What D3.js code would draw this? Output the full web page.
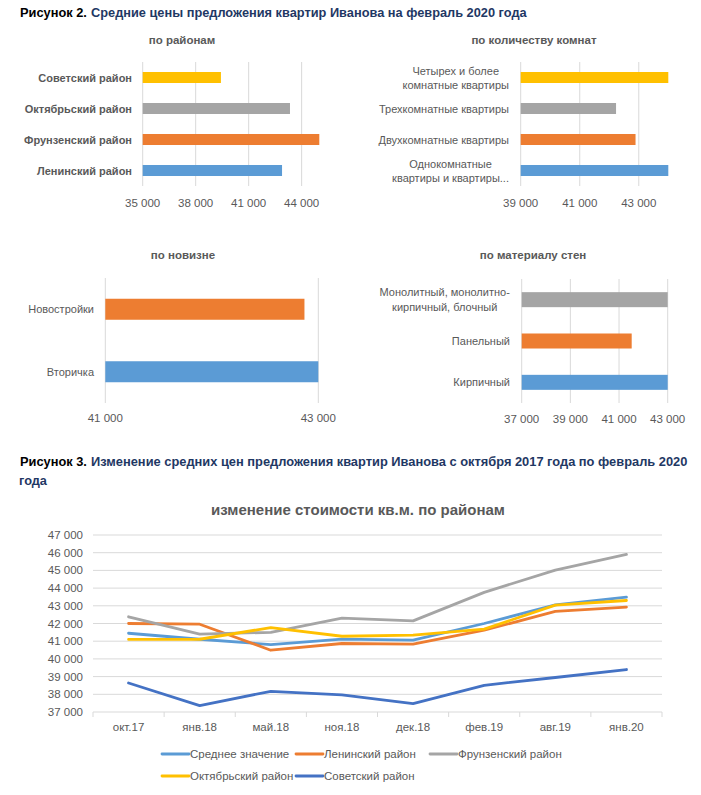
<!DOCTYPE html>
<html>
<head>
<meta charset="utf-8">
<script src="https://cdn.jsdelivr.net/npm/d3@7"></script>
<style>
  body { margin: 0; background: #fff; }
  svg { font-family: "Liberation Sans", Arial, sans-serif; }
</style>
</head>
<body>
<svg id="chart" width="701" height="795"></svg>
<script>
// ---- данные (снизу вверх, как в Excel) ----
var districtCats = ["Ленинский район", "Фрунзенский район", "Октябрьский район", "Советский район"];
var districtValues = [42890, 45900, 43340, 39430];

var roomCats = ["Однокомнатные\nквартиры и квартиры...", "Двухкомнатные квартиры", "Трехкомнатные квартиры", "Четырех и более\nкомнатные квартиры"];
var roomValues = [44000, 42890, 42230, 44000];

var newCats = ["Вторичка", "Новостройки"];
var newValues = [43000, 42870];

var wallCats = ["Кирпичный", "Панельный", "Монолитный, монолитно-\nкирпичный, блочный"];
var wallValues = [43000, 41520, 43000];

var months = ["окт.17", "янв.18", "май.18", "ноя.18", "дек.18", "фев.19", "авг.19", "янв.20"];
var seriesNames = ["Среднее значение", "Ленинский район", "Фрунзенский район", "Октябрьский район", "Советский район"];
var avgValues = [41450, 41110, 40810, 41120, 41060, 42000, 43050, 43490];
var leninValues = [42000, 41960, 40490, 40870, 40830, 41620, 42680, 42930];
var frunzeValues = [42380, 41400, 41500, 42300, 42150, 43760, 45020, 45900];
var oktValues = [41100, 41110, 41770, 41280, 41340, 41680, 43040, 43300];
var sovValues = [38640, 37360, 38170, 37970, 37470, 38510, 38950, 39400];

var colors = ["#5b9bd5", "#ed7d31", "#a5a5a5", "#ffc000", "#4472c4"];
var textGray = "#595959";
var gridGray = "#d9d9d9";

var svg = d3.select("#chart");
var fmt = d3.formatLocale({ decimal: ",", thousands: "\u00a0", grouping: [3], currency: ["", ""] }).format(",");

// заголовки рисунков: ужимаем по ширине через scale, чтобы совпасть с Calibri
function squeezed(x, y, text, len, fill) {
  var t = svg.append("text").attr("font-size", "13.5px").attr("font-weight", "bold")
    .attr("fill", fill).text(text);
  var w = t.node().getComputedTextLength();
  t.attr("transform", "translate(" + x + "," + y + ") scale(" + Math.min(1, len / w) + ",1)");
}
squeezed(20, 17, "Рисунок 2.", 67, "#000");
squeezed(91, 17, "Средние цены предложения квартир Иванова на февраль 2020 года", 436, "#1f3864");
squeezed(20, 466, "Рисунок 3.", 67, "#000");
squeezed(91, 466, "Изменение средних цен предложения квартир Иванова с октября 2017 года по февраль 2020", 597, "#1f3864");
squeezed(19, 485, "года", 28, "#1f3864");

// горизонтальная столбчатая диаграмма
function barPanel(opt) {
  var g = svg.append("g");
  var x = d3.scaleLinear().domain(opt.domain).range(opt.xr).clamp(true);
  var y = d3.scaleBand().domain(opt.cats.slice().reverse()).range(opt.yr)
    .paddingInner(opt.gap).paddingOuter(opt.gap / 2);

  g.append("text").attr("x", opt.titleX).attr("y", opt.titleY).attr("text-anchor", "middle")
    .attr("dominant-baseline", "central").attr("font-size", "11.5px").attr("font-weight", "bold")
    .attr("fill", textGray).text(opt.title);

  g.selectAll("line.grid").data(opt.ticks).enter().append("line")
    .attr("x1", function(d) { return x(d); }).attr("x2", function(d) { return x(d); })
    .attr("y1", opt.yr[0]).attr("y2", opt.yr[1])
    .attr("stroke", gridGray).attr("stroke-width", 1);

  g.selectAll("text.tick").data(opt.ticks).enter().append("text")
    .attr("x", function(d) { return x(d); }).attr("y", opt.tickY)
    .attr("text-anchor", "middle").attr("dominant-baseline", "central")
    .attr("font-size", "11.5px").attr("fill", textGray).text(function(d) { return fmt(d); });

  g.selectAll("rect").data(opt.values).enter().append("rect")
    .attr("x", x(opt.domain[0]))
    .attr("y", function(d, i) { return y(opt.cats[i]); })
    .attr("width", function(d) { return x(d) - x(opt.domain[0]); })
    .attr("height", y.bandwidth())
    .attr("fill", function(d, i) { return colors[i]; });

  opt.cats.forEach(function(c) {
    var lines = c.split("\n");
    var cy = y(c) + y.bandwidth() / 2;
    var t = g.append("text").attr("font-size", "11px").attr("fill", textGray)
      .attr("font-weight", opt.bold ? "bold" : "normal").attr("dominant-baseline", "central");
    if (lines.length == 1) {
      t.attr("x", opt.labelX).attr("y", cy).attr("text-anchor", "end").text(c);
    } else {
      t.attr("text-anchor", "middle");
      lines.forEach(function(l, k) {
        t.append("tspan").attr("x", 0).attr("y", cy + (k - (lines.length - 1) / 2) * opt.lineH).text(l);
      });
      var w = t.node().getBBox().width;
      t.selectAll("tspan").attr("x", opt.labelX - w / 2);
    }
  });
}

barPanel({ title: "по районам", titleX: 182, titleY: 40, cats: districtCats, values: districtValues,
  domain: [35000, 45000], ticks: [35000, 38000, 41000, 44000], xr: [142.7, 319.3],
  yr: [62, 186], gap: 0.645, tickY: 203, labelX: 132, bold: true, lineH: 14 });

barPanel({ title: "по количеству комнат", titleX: 534, titleY: 40, cats: roomCats, values: roomValues,
  domain: [39000, 44000], ticks: [39000, 41000, 43000], xr: [520.7, 668.3],
  yr: [62, 186], gap: 0.645, tickY: 203, labelX: 509, bold: false, lineH: 14 });

barPanel({ title: "по новизне", titleX: 183, titleY: 255, cats: newCats, values: newValues,
  domain: [41000, 43000], ticks: [41000, 43000], xr: [105.3, 318.3],
  yr: [278, 403], gap: 0.664, tickY: 418, labelX: 94, bold: false, lineH: 14 });

barPanel({ title: "по материалу стен", titleX: 533, titleY: 255, cats: wallCats, values: wallValues,
  domain: [37000, 43000], ticks: [37000, 39000, 41000, 43000], xr: [521.7, 667.7],
  yr: [279, 403], gap: 0.637, tickY: 419, labelX: 510, bold: false, lineH: 15 });

// ---- линейный график ----
var lineSeries = [avgValues, leninValues, frunzeValues, oktValues, sovValues];
var plotLeft = 93, plotRight = 662, plotTop = 535, plotBottom = 712;

var xBand = d3.scaleBand().domain(months).range([plotLeft, plotRight]);
var yScale = d3.scaleLinear().domain([37000, 47000]).range([plotBottom, plotTop]);
var yTicks = yScale.ticks(10);

svg.append("text").attr("x", 358).attr("y", 509).attr("text-anchor", "middle")
  .attr("dominant-baseline", "central").attr("font-size", "15px").attr("font-weight", "bold")
  .attr("fill", textGray).text("изменение стоимости кв.м. по районам");

svg.selectAll("line.ygrid").data(yTicks).enter().append("line")
  .attr("x1", plotLeft).attr("x2", plotRight)
  .attr("y1", function(d) { return yScale(d); }).attr("y2", function(d) { return yScale(d); })
  .attr("stroke", gridGray).attr("stroke-width", 1);

svg.selectAll("text.ytick").data(yTicks).enter().append("text")
  .attr("x", 83).attr("y", function(d) { return yScale(d); })
  .attr("text-anchor", "end").attr("dominant-baseline", "central")
  .attr("font-size", "11.5px").attr("fill", textGray).text(function(d) { return fmt(d); });

// деления оси X на границах категорий
var bounds = months.map(function(m) { return xBand(m); }).concat([plotRight]);
svg.selectAll("line.xtick").data(bounds).enter().append("line")
  .attr("x1", function(d) { return d; }).attr("x2", function(d) { return d; })
  .attr("y1", plotBottom).attr("y2", plotBottom + 5)
  .attr("stroke", gridGray).attr("stroke-width", 1);

svg.selectAll("text.xlab").data(months).enter().append("text")
  .attr("x", function(d) { return xBand(d) + xBand.bandwidth() / 2; }).attr("y", 727)
  .attr("text-anchor", "middle").attr("dominant-baseline", "central")
  .attr("font-size", "11.5px").attr("fill", textGray).text(function(d) { return d; });

var line = d3.line()
  .x(function(d, i) { return xBand(months[i]) + xBand.bandwidth() / 2; })
  .y(function(d) { return yScale(d); });

lineSeries.forEach(function(s, i) {
  svg.append("path").datum(s)
    .attr("fill", "none").attr("stroke", colors[i]).attr("stroke-width", 2.8)
    .attr("stroke-linejoin", "round").attr("stroke-linecap", "round")
    .attr("d", line);
});

// легенда
var legendPos = [[162, 754], [296, 754], [430, 754], [162, 776], [296, 776]];
seriesNames.forEach(function(n, i) {
  var p = legendPos[i];
  svg.append("line").attr("x1", p[0]).attr("x2", p[0] + 27).attr("y1", p[1]).attr("y2", p[1])
    .attr("stroke", colors[i]).attr("stroke-width", 2.8).attr("stroke-linecap", "round");
  svg.append("text").attr("x", p[0] + 28).attr("y", p[1]).attr("dominant-baseline", "central")
    .attr("font-size", "11.5px").attr("fill", textGray).text(n);
});
</script>
</body>
</html>
